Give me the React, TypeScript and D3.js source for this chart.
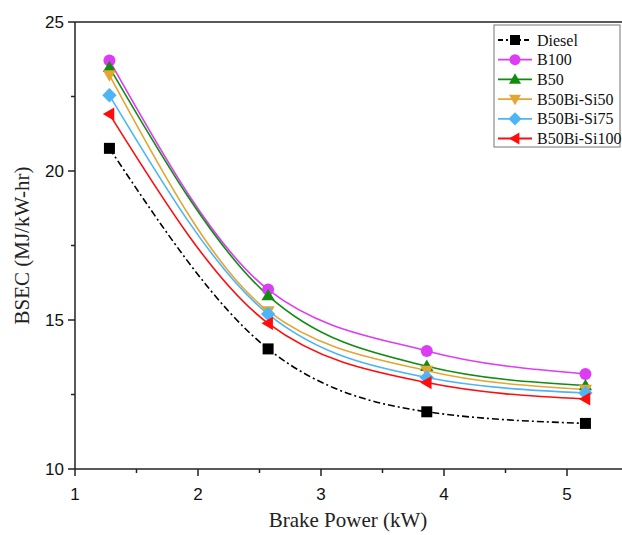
import { useEffect, useRef } from "react";
import * as d3 from "d3";

// brake power (kW)
const power = [1.28, 2.57, 3.86, 5.15];

const seriesNames = ["Diesel", "B100", "B50", "B50Bi-Si50", "B50Bi-Si75", "B50Bi-Si100"];
const diesel = [20.76, 14.03, 11.92, 11.53];
const b100 = [23.71, 16.02, 13.96, 13.19];
const b50 = [23.48, 15.82, 13.45, 12.8];
const si50 = [23.22, 15.3, 13.3, 12.67];
const si75 = [22.54, 15.2, 13.07, 12.55];
const si100 = [21.91, 14.89, 12.9, 12.35];

const xTicks = [1, 2, 3, 4, 5];
const yTicks = [10, 15, 20, 25];

const colors = ["#000000", "#dd3cf5", "#118c11", "#e3a633", "#4db5f7", "#ff0d0d"];
const shapes = ["square", "circle", "triangleUp", "triangleDown", "diamond", "triangleLeft"];

const serif = "'Liberation Serif', 'Times New Roman', serif";
const sans = "'Liberation Sans', Arial, sans-serif";

function markerPath(shape: string, s: number) {
  switch (shape) {
    case "square":
      return `M${-s},${-s}H${s}V${s}H${-s}Z`;
    case "circle":
      return d3.symbol(d3.symbolCircle, Math.PI * s * s)() as string;
    case "triangleUp":
      return `M0,${-s * 1.1}L${s * 1.1},${s * 0.8}L${-s * 1.1},${s * 0.8}Z`;
    case "triangleDown":
      return `M0,${s * 1.1}L${s * 1.1},${-s * 0.8}L${-s * 1.1},${-s * 0.8}Z`;
    case "diamond":
      return `M0,${-s * 1.2}L${s * 1.2},0L0,${s * 1.2}L${-s * 1.2},0Z`;
    case "triangleLeft":
      return `M${-s * 1.1},0L${s * 0.8},${-s * 1.1}L${s * 0.8},${s * 1.1}Z`;
  }
  return "";
}

export default function App() {
  const svgRef = useRef<SVGSVGElement>(null);

  useEffect(() => {
    const width = 622;
    const height = 535;
    const svg = d3.select(svgRef.current);
    svg.selectAll("*").remove();
    svg.attr("width", width).attr("height", height);

    const left = 75, top = 22, bottom = 469;
    const x = d3.scaleLinear().domain([1, 5]).range([left, 567]);
    const y = d3.scaleLinear().domain([10, 25]).range([bottom, top]);

    const data = [diesel, b100, b50, si50, si75, si100];

    // frame
    svg.append("line").attr("x1", left).attr("x2", width).attr("y1", top).attr("y2", top)
      .attr("stroke", "#222").attr("stroke-width", 1.5);

    // x axis
    const xAxis = svg.append("g").attr("transform", `translate(0,${bottom})`);
    xAxis.append("line").attr("x1", left).attr("x2", width).attr("stroke", "#222").attr("stroke-width", 1.5);
    d3.range(1, 5.51, 0.5).forEach((t) => {
      const major = Number.isInteger(t);
      xAxis.append("line").attr("x1", x(t)).attr("x2", x(t)).attr("y1", 0)
        .attr("y2", major ? 7 : 4).attr("stroke", "#222").attr("stroke-width", 1.5);
    });
    xTicks.forEach((t) => {
      xAxis.append("text").attr("x", x(t)).attr("y", 31).attr("text-anchor", "middle")
        .attr("font-family", sans).attr("font-size", 17)
        .attr("fill", "#111").text(t);
    });

    // y axis
    const yAxis = svg.append("g").attr("transform", `translate(${left},0)`);
    yAxis.append("line").attr("y1", top).attr("y2", bottom).attr("stroke", "#222").attr("stroke-width", 1.5);
    d3.range(10, 25.1, 2.5).forEach((t) => {
      const major = t % 5 === 0;
      yAxis.append("line").attr("x1", major ? -7 : -4).attr("x2", 0).attr("y1", y(t)).attr("y2", y(t))
        .attr("stroke", "#222").attr("stroke-width", 1.5);
    });
    yTicks.forEach((t) => {
      yAxis.append("text").attr("x", -11).attr("y", y(t)).attr("dy", "0.36em").attr("text-anchor", "end")
        .attr("font-family", sans).attr("font-size", 17)
        .attr("fill", "#111").text(t);
    });

    // axis titles
    svg.append("text").attr("x", 348).attr("y", 527).attr("text-anchor", "middle")
      .attr("font-family", serif).attr("font-size", 21)
      .attr("fill", "#222").text("Brake Power (kW)");
    svg.append("text").attr("transform", `translate(29,${(top + bottom) / 2}) rotate(-90)`)
      .attr("text-anchor", "middle")
      .attr("font-family", serif).attr("font-size", 21)
      .attr("fill", "#222").text("BSEC (MJ/kW-hr)");

    // lines
    const line = d3.line<number>()
      .x((_, i) => x(power[i]))
      .y((d) => y(d))
      .curve(d3.curveMonotoneX);

    data.forEach((vals, k) => {
      svg.append("path").datum(vals).attr("fill", "none")
        .attr("stroke", colors[k]).attr("stroke-width", 1.6)
        .attr("stroke-dasharray", k === 0 ? "7,3,2,3" : null)
        .attr("d", line);
    });
    data.forEach((vals, k) => {
      svg.append("g").selectAll("path").data(vals).join("path")
        .attr("transform", (d, i) => `translate(${x(power[i])},${y(d)})`)
        .attr("d", markerPath(shapes[k], k === 0 ? 5.5 : 6))
        .attr("fill", colors[k]);
    });

    // legend
    const lg = svg.append("g").attr("transform", "translate(494,25)");
    lg.append("rect").attr("width", 126).attr("height", 122).attr("fill", "#fff")
      .attr("stroke", "#777").attr("stroke-width", 1);
    seriesNames.forEach((name, k) => {
      const ly = 15 + k * 19.7;
      lg.append("line").attr("x1", 4).attr("x2", 38).attr("y1", ly).attr("y2", ly)
        .attr("stroke", colors[k]).attr("stroke-width", 1.8)
        .attr("stroke-dasharray", k === 0 ? "5,3,2,3" : null);
      lg.append("path").attr("transform", `translate(21,${ly})`)
        .attr("d", markerPath(shapes[k], k === 0 ? 5 : 5.5)).attr("fill", colors[k]);
      lg.append("text").attr("x", 43).attr("y", ly).attr("dy", "0.35em")
        .attr("font-family", serif).attr("font-size", 16)
        .attr("fill", "#111").text(name);
    });
  }, []);

  return <svg ref={svgRef} style={{ position: "absolute", left: 0, top: 0, background: "#fff" }} />;
}
